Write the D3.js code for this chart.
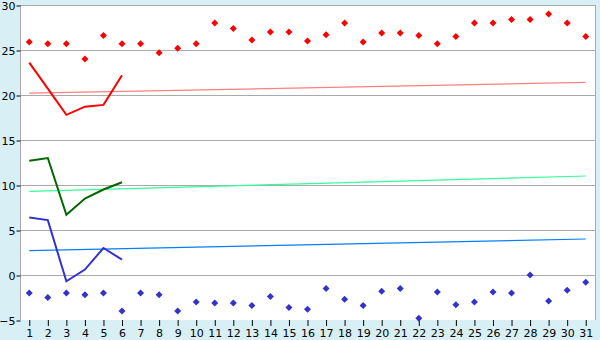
<!DOCTYPE html>
<html>
<head>
<meta charset="utf-8">
<script src="https://cdn.jsdelivr.net/npm/d3@7"></script>
<style>
  body { margin: 0; background: #d9eff6; }
  svg { display: block; }
  .tick text { font-family: "DejaVu Sans", Verdana, sans-serif; font-size: 11px; fill: #000; }
</style>
</head>
<body>
<svg id="chart" width="600" height="340"></svg>
<script>
// days of the month
const days = d3.range(1, 32);

// record highs / lows (scatter)
const recordMax = [25.9, 25.7, 25.7, 24.0, 26.6, 25.7, 25.7, 24.7, 25.2, 25.7,
                   28.0, 27.4, 26.1, 27.0, 27.0, 26.0, 26.7, 28.0, 25.9, 26.9,
                   26.9, 26.6, 25.7, 26.5, 28.0, 28.0, 28.4, 28.4, 29.0, 28.0, 26.5];
const recordMin = [-2.0, -2.5, -2.0, -2.2, -2.0, -4.0, -2.0, -2.2, -4.0, -3.0,
                   -3.1, -3.1, -3.4, -2.4, -3.6, -3.8, -1.5, -2.7, -3.4, -1.8,
                   -1.5, -4.8, -1.9, -3.3, -3.0, -1.9, -2.0, 0.0, -2.9, -1.7, -0.8];

// current month (first six days)
const maxTemp = [23.6, 20.7, 17.8, 18.7, 18.9, 22.2];
const meanTemp = [12.7, 13.0, 6.7, 8.5, 9.5, 10.3];
const minTemp = [6.4, 6.1, -0.7, 0.6, 3.0, 1.7];

// long-term averages (day 1 -> day 31)
const avgMax = [20.2, 21.4];
const avgMean = [9.3, 11.0];
const avgMin = [2.7, 4.0];

const yTicks = [-5, 0, 5, 10, 15, 20, 25, 30];

const svg = d3.select('#chart');
const plotL = 20, plotR = 595, plotT = 5, plotB = 320;

const x = d3.scalePoint().domain(days).range([plotL, plotR]).padding(0.5);
const y = d3.scaleLinear().domain([-5, 30]).range([plotB, plotT]);

// plot area
svg.append('rect')
    .attr('x', plotL).attr('y', plotT)
    .attr('width', plotR - plotL).attr('height', plotB - plotT)
    .attr('fill', '#fff');

// gridlines
svg.append('g').selectAll('line').data(yTicks.filter(d => d > -5)).join('line')
    .attr('x1', plotL).attr('x2', plotR)
    .attr('y1', d => Math.round(y(d)) + 0.5).attr('y2', d => Math.round(y(d)) + 0.5)
    .attr('stroke', '#aaaaaa');

// right border + left axis line
svg.append('line')
    .attr('x1', plotR + 0.5).attr('x2', plotR + 0.5).attr('y1', plotT).attr('y2', plotB)
    .attr('stroke', '#aaaaaa');
svg.append('line')
    .attr('x1', plotL + 0.5).attr('x2', plotL + 0.5).attr('y1', plotT).attr('y2', plotB)
    .attr('stroke', '#aaaaaa');

// axes
const yAxis = svg.append('g')
    .attr('transform', `translate(${plotL + 0.5},0.5)`)
    .call(d3.axisLeft(y).tickValues(yTicks).tickSize(4).tickPadding(1));
yAxis.select('.domain').remove();
yAxis.selectAll('.tick line').attr('stroke', '#000');

const xAxis = svg.append('g')
    .attr('transform', `translate(0,${plotB})`)
    .call(d3.axisBottom(x).tickSize(6).tickPadding(3));
xAxis.select('.domain').remove();
xAxis.selectAll('.tick line').attr('stroke', '#000');

// trend lines
const first = days[0], last = days[days.length - 1];
const trends = [
    { v: avgMax, color: '#ff8080' },
    { v: avgMean, color: '#33ff99' },
    { v: avgMin, color: '#0080ff' }
];
trends.forEach(t => {
    svg.append('line')
        .attr('x1', x(first)).attr('x2', x(last))
        .attr('y1', y(t.v[0])).attr('y2', y(t.v[1]))
        .attr('stroke', t.color).attr('stroke-width', 1.2);
});

// daily lines
const line = d3.line().x((d, i) => x(days[i])).y(d => y(d));
[
    { v: maxTemp, color: '#ff0000' },
    { v: meanTemp, color: '#006600' },
    { v: minTemp, color: '#3333cc' }
].forEach(s => {
    svg.append('path')
        .datum(s.v)
        .attr('d', line)
        .attr('fill', 'none')
        .attr('stroke', s.color)
        .attr('stroke-width', 2);
});

// record markers (small diamonds)
function diamond(r) {
    return `M0,${-r}L${r},0L0,${r}L${-r},0Z`;
}
[
    { v: recordMax, color: '#ff0000' },
    { v: recordMin, color: '#3333cc' }
].forEach(s => {
    svg.append('g').selectAll('path').data(s.v).join('path')
        .attr('transform', (d, i) => `translate(${x(days[i])},${y(d)})`)
        .attr('d', diamond(3.5))
        .attr('fill', s.color);
});
</script>
</body>
</html>
